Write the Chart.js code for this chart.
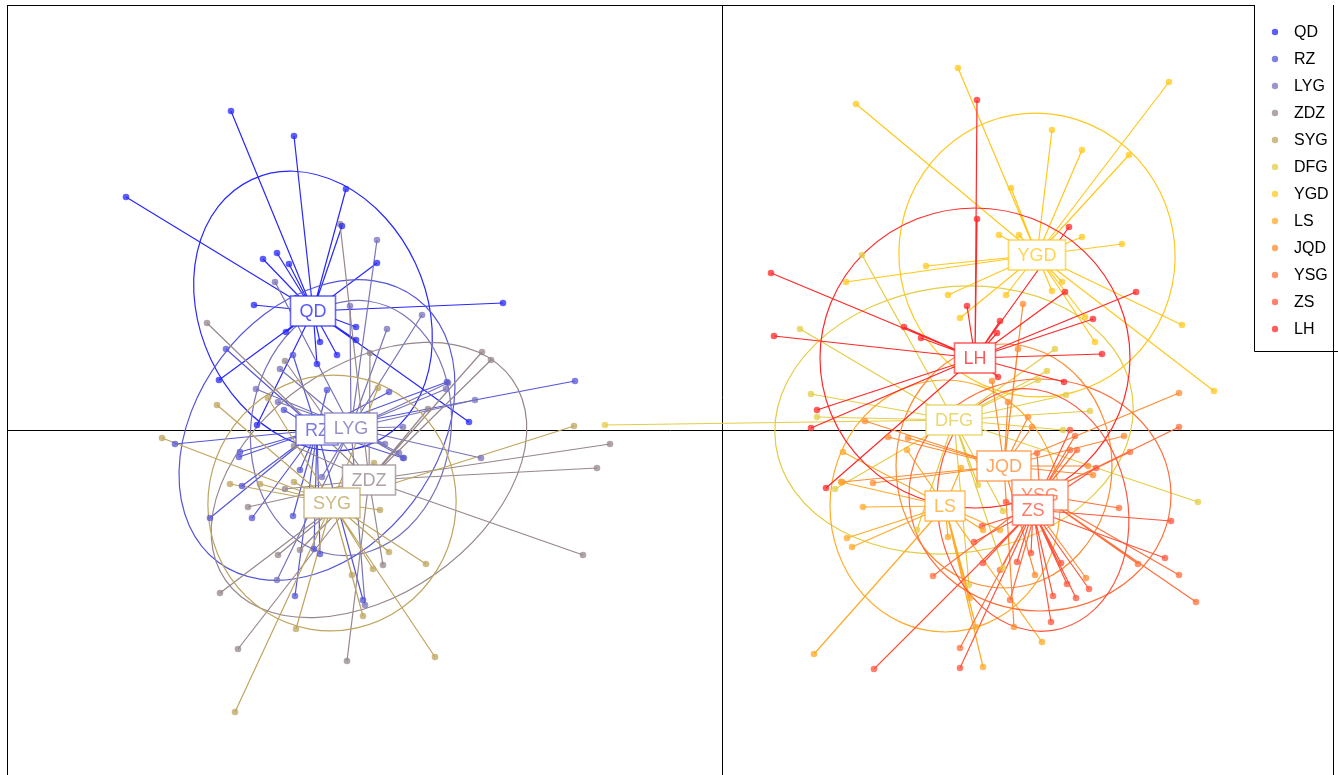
<!DOCTYPE html>
<html>
<head>
<meta charset="utf-8">
<script src="https://cdn.jsdelivr.net/npm/chart.js@4.4.1/dist/chart.umd.min.js"></script>
<style>
  html, body { margin: 0; padding: 0; background: #fff; overflow: hidden; }
  #wrap { width: 1338px; height: 800px; }
</style>
</head>
<body>
<div id="wrap"><canvas id="c"></canvas></div>
<script>
// Sampling sites (class factor) and their colours
const groups = ['QD', 'RZ', 'LYG', 'ZDZ', 'SYG', 'DFG', 'YGD', 'LS', 'JQD', 'YSG', 'ZS', 'LH'];
const groupColors = [
  [40, 40, 250], [85, 85, 215], [120, 115, 185], [150, 135, 140],
  [190, 165, 95], [228, 205, 70], [255, 200, 30], [255, 170, 40],
  [255, 140, 50], [255, 112, 60], [255, 85, 60], [255, 40, 40]
];

// Individual scores on axis 1 / axis 2, one array per site
const QD = [[-4.91,3.19],[-4.28,2.94],[-5.96,2.33],[-3.76,2.41],[-3.80,2.04],[-3.45,1.67],[-2.19,1.27],[-4.59,1.71],[-4.45,1.77],[-4.33,1.66],[-4.68,1.25],[-3.66,1.03],[-3.66,0.90],[-4.36,0.98],[-5.03,0.50],[-4.02,0.88],[-3.85,0.75],[-2.53,0.08],[-4.65,0.05],[-4.05,0.66]];
const RZ = [[-5.47,-0.14],[-4.96,0.81],[-4.38,0.20],[-4.82,-0.22],[-4.83,-0.27],[-4.80,-0.56],[-5.12,-0.88],[-4.70,-0.88],[-4.29,-0.86],[-4.08,-1.19],[-4.02,-1.24],[-4.27,-1.66],[-3.59,-1.70],[-1.47,0.49],[-3.33,0.38],[-3.19,-0.28],[-2.75,0.48],[-3.95,0.40],[-4.29,0.75],[-4.22,-0.40]];
const LYG = [[-3.45,1.90],[-4.47,1.48],[-3.72,1.24],[-3.35,1.01],[-3.00,1.15],[-2.74,0.47],[-2.76,0.41],[-2.47,0.30],[-2.41,-0.28],[-4.66,0.41],[-4.44,0.28],[-4.42,0.61],[-3.19,0.03],[-3.37,-0.14],[-3.23,-0.23],[-3.18,-0.28],[-4.00,-0.47],[-4.45,-1.50],[-3.57,-1.75]];
const ZDZ = [[-3.82,2.06],[-2.40,0.78],[-2.31,0.70],[-2.94,0.21],[-1.12,-0.14],[-1.25,-0.38],[-1.39,-1.25],[-3.39,-1.35],[-3.75,-2.31],[-4.84,-2.19],[-5.02,-1.63],[-4.44,-1.25],[-4.22,-1.20],[-4.74,-0.77],[-4.37,-0.59],[-5.15,1.07],[-4.37,0.69],[-3.52,0.77],[-4.28,-0.16]];
const SYG = [[-5.60,-0.08],[-5.05,0.25],[-4.54,0.32],[-4.92,-0.54],[-4.62,-0.54],[-4.28,-0.52],[-3.44,0.42],[-3.48,-0.33],[-3.42,-0.80],[-3.33,-1.22],[-2.96,-1.34],[-3.49,-1.39],[-3.70,-1.45],[-3.59,-1.86],[-4.26,-1.99],[-2.87,-2.27],[-4.87,-2.82],[-1.48,0.04]];
const DFG = [[-1.17,0.05],[1.40,1.75],[0.78,1.01],[0.89,0.36],[0.95,0.13],[3.16,0.50],[3.25,0.59],[3.33,0.81],[3.44,0.35],[3.68,0.19],[3.41,0.00],[4.76,-0.72],[1.13,-0.59],[1.95,-1.00],[2.81,-0.81],[2.56,-0.55],[2.81,-1.38],[2.47,-1.55]];
const YGD = [[2.36,3.62],[1.34,3.26],[4.47,3.48],[3.30,3.00],[3.60,2.80],[4.07,2.75],[2.89,2.42],[2.77,1.95],[2.97,1.95],[3.60,1.93],[4.00,1.86],[2.04,1.64],[1.24,1.48],[2.26,1.35],[2.84,1.35],[3.30,1.39],[3.40,1.48],[2.38,1.12],[3.63,1.13],[3.73,0.88],[4.60,1.05],[4.92,0.39]];
const LS = [[1.41,-0.77],[1.25,-1.08],[1.30,-1.17],[1.21,-0.22],[1.19,-0.52],[0.92,-2.24],[2.26,-1.07],[2.61,-2.37],[3.20,-2.12],[2.54,-1.97],[1.85,-0.20],[2.61,-1.00],[2.78,-1.00],[2.39,-0.38],[2.48,-1.68]];
const JQD = [[3.01,1.26],[2.96,0.81],[2.86,0.28],[3.06,0.13],[3.10,0.03],[4.02,-0.06],[4.57,0.37],[1.43,0.09],[1.66,-0.07],[1.86,-0.08],[2.70,0.49],[3.66,-0.36],[3.71,-0.45],[1.51,-0.53],[1.20,-0.52],[3.13,-1.45],[3.64,-1.48],[2.92,-1.97]];
const YSG = [[4.16,-1.34],[4.57,-1.45],[4.74,-1.72],[2.11,-1.46],[2.38,-2.18],[3.97,-0.78],[4.57,0.03],[3.53,-0.06],[3.48,-0.20],[3.55,-0.20],[3.15,-0.23],[2.78,-1.40],[2.88,-1.70],[4.08,-0.22]];
const ZS = [[4.49,-0.91],[4.43,-1.28],[3.67,-1.59],[3.54,-1.68],[3.45,-1.54],[3.31,-1.66],[3.29,-1.92],[3.39,-1.33],[3.09,-1.23],[2.95,-1.32],[2.61,-1.33],[2.60,-0.96],[2.52,-1.12],[2.84,-0.72],[2.38,-2.38],[1.52,-2.39],[3.74,-0.38],[3.48,0.00]];
const LH = [[2.55,3.30],[2.55,2.11],[3.47,2.03],[0.49,1.57],[0.52,0.94],[1.82,1.03],[1.99,0.92],[2.45,1.24],[2.78,1.09],[2.75,0.97],[4.14,1.38],[3.71,1.11],[3.80,0.76],[3.42,0.48],[2.76,0.53],[3.43,1.38],[0.95,0.20],[0.89,0.02],[1.04,-0.58]];

const groupScores = [QD, RZ, LYG, ZDZ, SYG, DFG, YGD, LS, JQD, YSG, ZS, LH];

// Class gravity centres
const centroidX = [-4.09, -4.05, -3.71, -3.53, -3.90, 2.32, 3.15, 2.23, 2.82, 3.18, 3.11, 2.53];
const centroidY = [ 1.19,  0.00,  0.02, -0.50, -0.73, 0.10, 1.75, -0.76, -0.36, -0.65, -0.80, 0.72];

// Inertia ellipses: semi-axes and orientation of the major axis (degrees)
const ellipseA = [1.45, 1.65, 1.28, 1.75, 1.28, 1.80, 1.42, 1.26, 1.22, 1.31, 1.22, 1.55];
const ellipseB = [1.13, 1.20, 1.00, 1.15, 1.24, 1.33, 1.38, 1.15, 1.08, 1.16, 0.95, 1.50];
const ellipseAngle = [115, 53, 82, 35, 80, 8, 100, 90, 90, 0, 100, 0];

// Axis limits
const xLimits = [-7.15, 6.12];
const yLimits = [-3.60, 4.25];

const rgba = (c, a) => `rgba(${c[0]},${c[1]},${c[2]},${a})`;
const FONT = '"Liberation Sans", Arial, Helvetica, sans-serif';

const classPlot = {
  id: 'classPlot',
  beforeDatasetsDraw(chart) {
    const { ctx, chartArea: area, scales: { x, y } } = chart;
    ctx.save();
    // frame and zero axes
    ctx.strokeStyle = '#000';
    ctx.lineWidth = 1;
    const x0 = Math.round(x.getPixelForValue(0)) + 0.5;
    const y0 = Math.round(y.getPixelForValue(0)) + 0.5;
    ctx.beginPath();
    ctx.moveTo(area.left, y0); ctx.lineTo(area.right, y0);
    ctx.moveTo(x0, area.top); ctx.lineTo(x0, area.bottom);
    ctx.stroke();
    ctx.strokeRect(area.left + 0.5, area.top + 0.5, area.width - 1, area.height - 1);

    const ux = x.getPixelForValue(1) - x.getPixelForValue(0);
    const uy = y.getPixelForValue(0) - y.getPixelForValue(1);

    ctx.lineWidth = 1.2;
    groups.forEach((g, i) => {
      const cx = x.getPixelForValue(centroidX[i]);
      const cy = y.getPixelForValue(centroidY[i]);
      ctx.strokeStyle = rgba(groupColors[i], 1);
      // ellipse
      ctx.beginPath();
      ctx.ellipse(cx, cy, ellipseA[i] * ux, ellipseB[i] * uy, -ellipseAngle[i] * Math.PI / 180, 0, Math.PI * 2);
      ctx.stroke();
      // star: each individual joined to its class centre
      ctx.beginPath();
      groupScores[i].forEach(([px, py]) => {
        ctx.moveTo(x.getPixelForValue(px), y.getPixelForValue(py));
        ctx.lineTo(cx, cy);
      });
      ctx.stroke();
    });
    ctx.restore();
  },
  afterDatasetsDraw(chart) {
    const { ctx, chartArea: area, scales: { x, y } } = chart;
    ctx.save();
    // class labels
    ctx.font = `18px ${FONT}`;
    ctx.textAlign = 'center';
    ctx.textBaseline = 'middle';
    groups.forEach((g, i) => {
      const cx = x.getPixelForValue(centroidX[i]);
      const cy = y.getPixelForValue(centroidY[i]);
      const w = ctx.measureText(g).width + 18;
      const h = 30;
      ctx.fillStyle = '#fff';
      ctx.fillRect(cx - w / 2, cy - h / 2, w, h);
      ctx.strokeStyle = rgba(groupColors[i], 0.7);
      ctx.lineWidth = 1.6;
      ctx.strokeRect(cx - w / 2, cy - h / 2, w, h);
      ctx.fillStyle = rgba(groupColors[i], 0.78);
      ctx.fillText(g, cx, cy + 1);
    });

    // legend box in the top-right corner
    const lx = area.right - 80;
    const ly = area.top;
    const lh = 346;
    ctx.fillStyle = '#fff';
    ctx.fillRect(lx, ly, chart.width - lx, lh);
    ctx.strokeStyle = '#000';
    ctx.lineWidth = 1;
    ctx.beginPath();
    ctx.moveTo(lx + 0.5, ly);
    ctx.lineTo(lx + 0.5, ly + lh + 0.5);
    ctx.lineTo(chart.width, ly + lh + 0.5);
    ctx.moveTo(area.right - 0.5, ly);
    ctx.lineTo(area.right - 0.5, ly + lh);
    ctx.stroke();
    ctx.font = `16px ${FONT}`;
    ctx.textAlign = 'left';
    groups.forEach((g, i) => {
      const ty = ly + 27 + i * 27;
      ctx.fillStyle = rgba(groupColors[i], 0.75);
      ctx.beginPath();
      ctx.arc(lx + 21, ty, 3.2, 0, Math.PI * 2);
      ctx.fill();
      ctx.fillStyle = '#000';
      ctx.fillText(g, lx + 40, ty + 1);
    });
    ctx.restore();
  }
};

const datasets = groups.map((g, i) => ({
  label: g,
  data: groupScores[i].map(([px, py]) => ({ x: px, y: py })),
  backgroundColor: rgba(groupColors[i], 0.75),
  borderWidth: 0,
  pointRadius: 3.3,
  pointHoverRadius: 3.3
}));

new Chart(document.getElementById('c'), {
  type: 'scatter',
  data: { datasets },
  options: {
    responsive: true,
    maintainAspectRatio: false,
    animation: false,
    layout: { padding: { left: 7, top: 5, right: 4, bottom: 10 } },
    scales: {
      x: { type: 'linear', min: xLimits[0], max: xLimits[1], display: false },
      y: { type: 'linear', min: yLimits[0], max: yLimits[1], display: false }
    },
    plugins: { legend: { display: false }, tooltip: { enabled: false } }
  },
  plugins: [classPlot]
});
</script>
</body>
</html>
